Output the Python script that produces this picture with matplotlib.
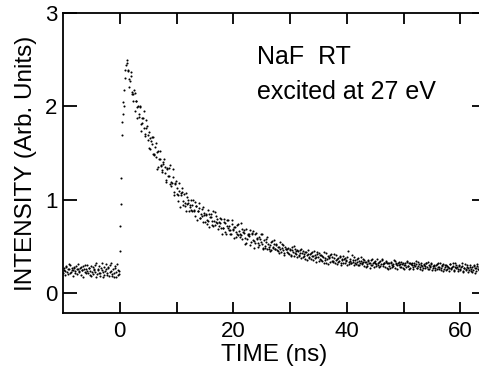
import numpy as np
import matplotlib
matplotlib.use('Agg')
import matplotlib.pyplot as plt

plt.rcParams['font.family'] = ['Liberation Sans', 'DejaVu Sans']

# baseline before the pulse: two interleaved sweeps, 0.2 ns step each
pre_a_start, pre_b_start = -10.0, -9.9
pre_a = [0.22, 0.27, 0.24, 0.29, 0.21, 0.26, 0.30, 0.23, 0.27, 0.25,
         0.28, 0.22, 0.26, 0.31, 0.24, 0.27, 0.20, 0.25, 0.29, 0.23,
         0.26, 0.30, 0.22, 0.27, 0.24, 0.19, 0.28, 0.25, 0.23, 0.32,
         0.21, 0.26, 0.29, 0.22, 0.25, 0.18, 0.28, 0.24, 0.31, 0.20,
         0.27, 0.23, 0.33, 0.19, 0.26, 0.22, 0.29, 0.18, 0.25, 0.21]
pre_b = [0.25, 0.20, 0.28, 0.23, 0.26, 0.31, 0.22, 0.25, 0.19, 0.27,
         0.24, 0.29, 0.21, 0.26, 0.23, 0.28, 0.25, 0.17, 0.26, 0.30,
         0.22, 0.24, 0.27, 0.20, 0.29, 0.23, 0.21, 0.26, 0.30, 0.18,
         0.25, 0.22, 0.19, 0.27, 0.32, 0.23, 0.20, 0.26, 0.22, 0.28,
         0.19, 0.30, 0.24, 0.21, 0.17, 0.27, 0.23, 0.31, 0.20, 0.24]

# rising edge
rise_t = [0.0, 0.1, 0.2, 0.3, 0.35, 0.4, 0.5, 0.6, 0.7, 0.8, 0.9, 1.0, 1.1, 1.2, 1.3]
rise_i = [0.45, 0.72, 0.96, 1.23, 1.69, 1.83, 1.92, 2.05, 2.18, 2.00, 2.30, 2.39, 2.44, 2.50, 2.46]

# decay: two interleaved sweeps from 1.4 / 1.5 ns, 0.2 ns step each
dec_a_start, dec_b_start = 1.4, 1.5
dec_a = [
    2.39, 2.21, 2.27, 2.33, 2.15, 2.06, 2.14, 2.06, 1.88, 2.01,
    1.92, 1.99, 1.81, 1.82, 1.95, 1.70, 1.77, 1.79, 1.64, 1.56,
    1.66, 1.60, 1.67, 1.48, 1.57, 1.46, 1.33, 1.52, 1.44, 1.36,
    1.32, 1.38, 1.44, 1.29, 1.21, 1.33, 1.26, 1.37, 1.15, 1.18,
    1.25, 1.05, 1.18, 1.13, 1.05, 1.18, 0.92, 1.07, 1.08, 0.99,
    0.93, 1.07, 0.96, 1.00, 0.88, 0.95, 1.00, 0.88, 0.88, 0.98,
    0.93, 0.79, 0.88, 0.91, 0.81, 0.83, 0.92, 0.84, 0.76, 0.85,
    0.74, 0.77, 0.85, 0.82, 0.73, 0.88, 0.77, 0.73, 0.83, 0.75,
    0.72, 0.75, 0.80, 0.63, 0.70, 0.76, 0.66, 0.78, 0.70, 0.72,
    0.68, 0.64, 0.78, 0.68, 0.71, 0.60, 0.64, 0.74, 0.67, 0.60,
    0.62, 0.69, 0.65, 0.53, 0.69, 0.58, 0.62, 0.64, 0.52, 0.65,
    0.67, 0.56, 0.54, 0.65, 0.58, 0.50, 0.60, 0.55, 0.64, 0.49,
    0.57, 0.49, 0.55, 0.60, 0.48, 0.52, 0.46, 0.56, 0.50, 0.53,
    0.47, 0.53, 0.45, 0.50, 0.55, 0.44, 0.49, 0.52, 0.43, 0.48,
    0.44, 0.49, 0.42, 0.47, 0.40, 0.46, 0.51, 0.43, 0.45, 0.39,
    0.45, 0.40, 0.43, 0.48, 0.39, 0.42, 0.37, 0.44, 0.41, 0.46,
    0.38, 0.43, 0.40, 0.36, 0.45, 0.41, 0.39, 0.44, 0.35, 0.41,
    0.41, 0.35, 0.39, 0.44, 0.36, 0.33, 0.40, 0.38, 0.34, 0.42,
    0.39, 0.34, 0.42, 0.36, 0.31, 0.38, 0.35, 0.40, 0.33, 0.37,
    0.33, 0.38, 0.35, 0.30, 0.45, 0.34, 0.37, 0.32, 0.36, 0.39,
    0.36, 0.31, 0.34, 0.38, 0.30, 0.35, 0.32, 0.37, 0.29, 0.34,
    0.34, 0.29, 0.36, 0.32, 0.30, 0.37, 0.33, 0.28, 0.35, 0.31,
    0.33, 0.28, 0.35, 0.31, 0.36, 0.29, 0.32, 0.34, 0.27, 0.33,
    0.32, 0.27, 0.34, 0.30, 0.29, 0.35, 0.31, 0.26, 0.33, 0.30,
    0.31, 0.34, 0.27, 0.30, 0.33, 0.28, 0.35, 0.29, 0.26, 0.32,
    0.30, 0.26, 0.33, 0.29, 0.31, 0.27, 0.34, 0.28, 0.30, 0.25,
    0.27, 0.31, 0.29, 0.33, 0.26, 0.30, 0.28, 0.32, 0.25, 0.29,
    0.29, 0.25, 0.31, 0.28, 0.26, 0.32, 0.27, 0.30, 0.24, 0.28,
    0.30, 0.26, 0.28, 0.24, 0.31, 0.27, 0.29, 0.25, 0.32, 0.27,
    0.28, 0.24, 0.30, 0.26, 0.29, 0.23, 0.27, 0.31, 0.25, 0.28,
    0.27, 0.30, 0.24, 0.28, 0.25, 0.29, 0.22, 0.27, 0.31, 0.25,
    0.26, 0.29, 0.23, 0.27, 0.25, 0.28, 0.24, 0.27, 0.30, 0.25,
]
dec_b = [
    2.38, 2.29, 2.37, 2.13, 2.13, 2.18, 1.95, 2.06, 1.99, 1.89,
    2.01, 1.74, 1.88, 1.88, 1.77, 1.68, 1.85, 1.69, 1.73, 1.54,
    1.63, 1.67, 1.49, 1.49, 1.61, 1.51, 1.35, 1.44, 1.52, 1.37,
    1.30, 1.41, 1.35, 1.19, 1.34, 1.26, 1.34, 1.17, 1.19, 1.33,
    1.09, 1.17, 1.20, 1.06, 0.99, 1.10, 1.05, 1.13, 0.95, 1.06,
    0.97, 0.88, 1.03, 0.97, 0.92, 0.89, 0.95, 1.00, 0.89, 0.83,
    0.93, 0.88, 0.97, 0.81, 0.85, 0.90, 0.76, 0.86, 0.84, 0.78,
    0.89, 0.71, 0.82, 0.85, 0.77, 0.72, 0.87, 0.76, 0.80, 0.69,
    0.76, 0.81, 0.70, 0.70, 0.80, 0.75, 0.64, 0.72, 0.78, 0.68,
    0.64, 0.74, 0.69, 0.59, 0.71, 0.66, 0.73, 0.62, 0.64, 0.75,
    0.58, 0.66, 0.68, 0.59, 0.54, 0.64, 0.61, 0.68, 0.55, 0.64,
    0.57, 0.49, 0.64, 0.59, 0.54, 0.52, 0.58, 0.64, 0.53, 0.48,
    0.51, 0.58, 0.47, 0.53, 0.50, 0.45, 0.55, 0.49, 0.57, 0.48,
    0.52, 0.46, 0.50, 0.43, 0.48, 0.53, 0.46, 0.41, 0.50, 0.47,
    0.48, 0.43, 0.46, 0.41, 0.50, 0.44, 0.40, 0.47, 0.42, 0.46,
    0.41, 0.46, 0.38, 0.43, 0.45, 0.40, 0.44, 0.36, 0.42, 0.39,
    0.42, 0.37, 0.44, 0.40, 0.38, 0.34, 0.42, 0.39, 0.43, 0.37,
    0.36, 0.40, 0.33, 0.38, 0.43, 0.37, 0.31, 0.39, 0.41, 0.35,
    0.35, 0.38, 0.32, 0.41, 0.37, 0.34, 0.39, 0.30, 0.36, 0.40,
    0.37, 0.32, 0.36, 0.39, 0.31, 0.35, 0.33, 0.41, 0.34, 0.30,
    0.32, 0.37, 0.30, 0.35, 0.33, 0.39, 0.31, 0.34, 0.36, 0.28,
    0.31, 0.35, 0.33, 0.27, 0.36, 0.30, 0.34, 0.32, 0.29, 0.37,
    0.30, 0.34, 0.29, 0.37, 0.31, 0.33, 0.28, 0.35, 0.32, 0.26,
    0.29, 0.33, 0.28, 0.31, 0.36, 0.27, 0.32, 0.30, 0.34, 0.28,
    0.28, 0.31, 0.33, 0.26, 0.30, 0.34, 0.29, 0.32, 0.27, 0.31,
    0.32, 0.28, 0.30, 0.35, 0.27, 0.29, 0.31, 0.26, 0.33, 0.29,
    0.30, 0.27, 0.32, 0.28, 0.34, 0.26, 0.29, 0.31, 0.27, 0.30,
    0.27, 0.30, 0.26, 0.33, 0.28, 0.25, 0.29, 0.31, 0.26, 0.30,
    0.25, 0.29, 0.27, 0.31, 0.26, 0.28, 0.33, 0.24, 0.28, 0.30,
    0.26, 0.29, 0.25, 0.28, 0.32, 0.24, 0.27, 0.26, 0.30, 0.23,
    0.25, 0.28, 0.26, 0.23, 0.30, 0.27, 0.24, 0.29, 0.26, 0.28,
    0.28, 0.24, 0.27, 0.25, 0.29, 0.23, 0.26, 0.28, 0.25, 0.27,
]

x_major = [0, 20, 40, 60]
x_minor = [10, 30, 50]
y_ticks = [0, 1, 2, 3]


def times(start, vals):
    return np.round(start + 0.2 * np.arange(len(vals)), 2)


fig = plt.figure(figsize=(4.79, 3.68), dpi=100)
# right edge of the axes sits just outside the picture, like the scan
ax = fig.add_axes([63 / 479, 55 / 368, 423 / 479, 300 / 368])

series = [(times(pre_a_start, pre_a), pre_a), (times(pre_b_start, pre_b), pre_b),
          (rise_t, rise_i),
          (times(dec_a_start, dec_a), dec_a), (times(dec_b_start, dec_b), dec_b)]
for t, v in series:
    ax.plot(t, v, 'o', color='black', ms=1.5, mew=0)

ax.set_xlim(-10, 64.5)
ax.set_ylim(-0.21, 3)
ax.set_xticks(x_major)
ax.set_xticks(x_minor, minor=True)
ax.set_yticks(y_ticks)
ax.tick_params(which='both', direction='in', top=True, right=True,
               width=1.3, labelsize=16, pad=6)
ax.tick_params(axis='x', which='both', length=8)
ax.tick_params(axis='y', length=10, pad=4)
for s in ax.spines.values():
    s.set_linewidth(1.3)

ax.set_xlabel('TIME (ns)', fontsize=17.5, labelpad=1)
ax.set_ylabel('INTENSITY (Arb. Units)', fontsize=17.5, labelpad=6)

ax.text(24.1, 2.45, 'NaF  RT', fontsize=18)
ax.text(24.1, 2.08, 'excited at 27 eV', fontsize=18)

fig.savefig('out.png', dpi=100)
